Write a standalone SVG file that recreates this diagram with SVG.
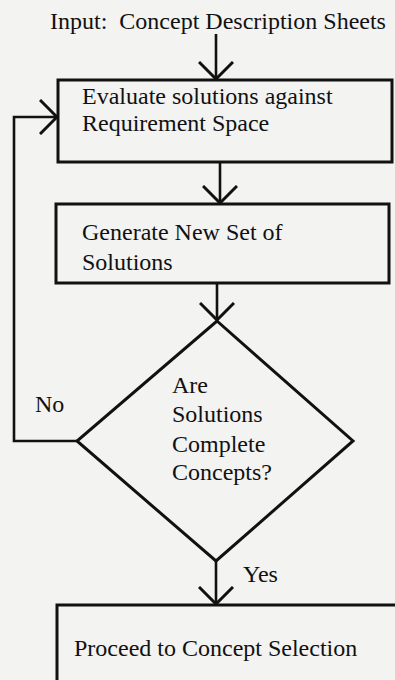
<svg xmlns="http://www.w3.org/2000/svg" width="395" height="680" viewBox="0 0 395 680">
<defs>
<style>
.t{font-family:"Liberation Serif","Times New Roman",serif;font-size:24px;fill:#111}
.s{fill:none;stroke:#111;stroke-width:3;stroke-linejoin:miter}
.c{fill:none;stroke:#111;stroke-width:2.6}
</style>
<marker id="v" viewBox="0 0 20 36" refX="18" refY="18" markerWidth="20" markerHeight="36" markerUnits="userSpaceOnUse" orient="auto">
<path d="M1,1 L18,18 L1,35" fill="none" stroke="#111" stroke-width="3"/>
</marker>
</defs>
<rect width="395" height="680" fill="#f3f3f1"/>
<g id="input"><text class="t" x="50" y="29" xml:space="preserve">Input:&#160; Concept Description Sheets</text></g>
<g id="evaluate">
<rect class="s" x="58" y="80" width="334" height="82"/>
<text class="t" x="82" y="104">Evaluate solutions against</text>
<text class="t" x="82" y="131">Requirement Space</text>
</g>
<g id="generate">
<rect class="s" x="56" y="204" width="333" height="79"/>
<text class="t" x="82" y="240">Generate New Set of</text>
<text class="t" x="82" y="270">Solutions</text>
</g>
<g id="decision">
<polygon class="s" points="217,321 353,441 216,561 77,441"/>
<text class="t" x="172" y="393">Are</text>
<text class="t" x="172" y="422">Solutions</text>
<text class="t" x="172" y="452">Complete</text>
<text class="t" x="172" y="480">Concepts?</text>
</g>
<g id="proceed">
<rect class="s" x="57" y="605" width="350" height="100"/>
<text class="t" x="74" y="656">Proceed to Concept Selection</text>
</g>
<g id="connectors">
<line class="c" x1="216" y1="34" x2="216" y2="79" marker-end="url(#v)"/>
<line class="c" x1="220" y1="162" x2="220" y2="203" marker-end="url(#v)"/>
<line class="c" x1="217" y1="283" x2="217" y2="320" marker-end="url(#v)"/>
<polyline class="c" points="77,441 14,441 14,117 57,117" marker-end="url(#v)"/>
<line class="c" x1="216" y1="561" x2="216" y2="604" marker-end="url(#v)"/>
<text class="t" x="35" y="412">No</text>
<text class="t" x="243" y="582">Yes</text>
</g>
</svg>
